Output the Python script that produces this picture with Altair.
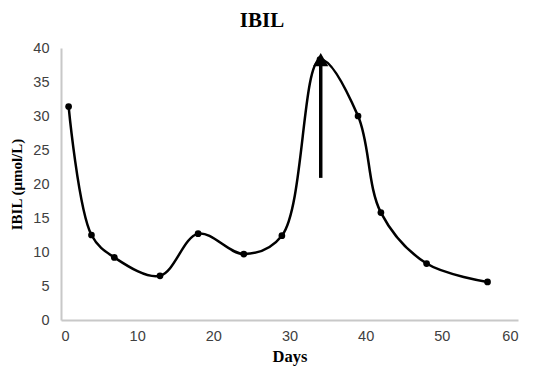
import altair as alt
import pandas as pd

days = [1, 4, 7, 13, 18, 24, 29, 34, 39, 42, 48, 56]
ibil = [31.4, 12.5, 9.2, 6.5, 12.7, 9.7, 12.4, 38.3, 30.0, 15.8, 8.3, 5.6]

arrow_day = [34.1]
arrow_from = [20.9]
arrow_to = [37.6]
arrow_tip = [38.3]

title_text = ["IBIL"]

df = pd.DataFrame({"day": days, "ibil": ibil})
arr = pd.DataFrame({"day": arrow_day, "y0": arrow_from, "y1": arrow_to, "tip": arrow_tip})
tdf = pd.DataFrame({"t": title_text})

W, H = 457, 272
PL, PT, PR, PB = 53, 40, 12, 51

xs = alt.Scale(domain=[0, 60], nice=False)
ys = alt.Scale(domain=[0, 40], nice=False)

xax = alt.Axis(values=[0, 10, 20, 30, 40, 50, 60], title="Days", grid=False, ticks=False,
               domainColor="#c8c8c8", domainWidth=2, labelFont="Liberation Sans",
               labelFontSize=14.5, labelColor="#404040", labelPadding=9,
               titleFont="Liberation Serif", titleFontSize=16.5, titleFontWeight="bold",
               titleColor="#000000", titlePadding=6)
yax = alt.Axis(values=[0, 5, 10, 15, 20, 25, 30, 35, 40], title="IBIL (μmol/L)", grid=False,
               ticks=False, domainColor="#c8c8c8", domainWidth=2, labelFont="Liberation Sans",
               labelFontSize=14.5, labelColor="#404040", labelPadding=12,
               titleFont="Liberation Serif", titleFontSize=15, titleFontWeight="bold",
               titleColor="#000000", titlePadding=8, labelOverlap=False)

X = alt.X("day:Q", scale=xs, axis=xax)

line = alt.Chart(df).mark_line(color="black", strokeWidth=2.5, interpolate="catmull-rom").encode(
    x=X, y=alt.Y("ibil:Q", scale=ys, axis=yax),
)
pts = alt.Chart(df).mark_circle(color="black", size=45, opacity=1).encode(
    x=X, y=alt.Y("ibil:Q", scale=ys, axis=yax),
)
shaft = alt.Chart(arr).mark_rule(color="black", strokeWidth=3.5).encode(
    x=X, y=alt.Y("y0:Q", scale=ys, axis=yax), y2="y1:Q",
)
head = alt.Chart(arr).mark_point(shape="triangle-up", filled=True, color="black",
                                 size=230, opacity=1).encode(
    x=X, y=alt.Y("tip:Q", scale=ys, axis=yax),
)
title = alt.Chart(tdf).mark_text(font="Liberation Serif", fontSize=21, fontWeight="bold",
                                 color="#000000", align="center", baseline="alphabetic").encode(
    text="t:N", x=alt.value(262 - 61), y=alt.value(27 - 48),
)

chart = alt.layer(line, pts, shaft, head, title).properties(
    width=W, height=H,
    autosize=alt.AutoSizeParams(type="none"),
    padding={"left": PL, "top": PT, "right": PR, "bottom": PB},
).configure_view(stroke=None)

chart.save("out.html", embed_options={"renderer": "svg", "actions": False})
